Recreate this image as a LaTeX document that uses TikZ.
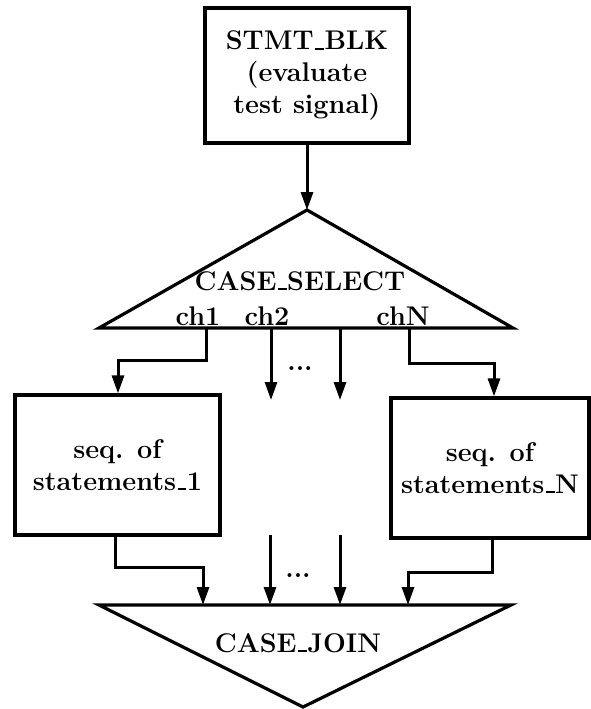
\documentclass[tikz,border=0pt]{standalone}
\usetikzlibrary{arrows.meta}
% classic TeX-style underscore: a short rule on the baseline
\newcommand{\lowbar}{\leavevmode\kern.06em\vbox{\hrule width.32em height .075em}\kern.02em}
\begin{document}
\begin{tikzpicture}[x=1pt,y=-1pt,
  line width=3.2pt,
  lbl/.style={font=\fontsize{27}{32}\selectfont\bfseries, inner sep=0pt, align=center},
  blockbox/.style={draw, line width=3.2pt, inner sep=0pt, align=center,
    font=\fontsize{27}{32}\selectfont\bfseries},
  flow/.style={-{Triangle[length=18pt,width=12pt]}, line width=3pt}]
\useasboundingbox (0,0) rectangle (591,709);

% evaluation block
\node[blockbox, minimum width=204pt, minimum height=135pt] (stmt) at (307,75.5)
  {STMT\lowbar BLK\\(evaluate\\test signal)};

% CASE_SELECT triangle
\coordinate (selTop) at (307,210);
\coordinate (selL) at (99,328);
\coordinate (selR) at (513,328);
\draw[line join=miter] (selTop) -- (selL) -- (selR) -- cycle;
\node[lbl] (selLbl) at (300,281) {CASE\lowbar SELECT};
\node[lbl] (ch1) at (198,316) {ch1};
\node[lbl] (ch2) at (267,316) {ch2};
\node[lbl] (chN) at (403,316) {chN};

% statement sequences
\node[blockbox, minimum width=205pt, minimum height=140pt] (seqA) at (117.5,465)
  {seq. of\\statements\lowbar 1};
\node[blockbox, minimum width=198pt, minimum height=140pt] (seqN) at (490,468)
  {seq. of\\statements\lowbar N};

% CASE_JOIN triangle
\coordinate (joinL) at (99,605);
\coordinate (joinR) at (511,605);
\coordinate (joinTip) at (303,707);
\draw[line join=miter] (joinL) -- (joinR) -- (joinTip) -- cycle;
\node[lbl] (joinLbl) at (298,643) {CASE\lowbar JOIN};

% branch points on the select base
\coordinate (o1) at (206,328);
\coordinate (o2) at (271,328);
\coordinate (o3) at (340,328);
\coordinate (oN) at (409,328);
\coordinate (e2) at (271,400);
\coordinate (e3) at (340,400);

% entry points on the join base
\coordinate (i1) at (203,605);
\coordinate (i2) at (270,605);
\coordinate (i3) at (340,605);
\coordinate (iN) at (408,605);
\coordinate (s2) at (270,535);
\coordinate (s3) at (340,535);

% connectors
\draw[flow] (stmt.south) -- (selTop);
\draw[flow] (o1) |- (162,360) -| (seqA.north -| 118,0);
\draw[flow] (o2) -- (e2);
\draw[flow] (o3) -- (e3);
\draw[flow] (oN) |- (450,363) -| (seqN.north -| 494,0);
\node[lbl] (dotsA) at (300,369) {...};

\draw[flow] (seqA.south -| 115,0) |- (160,567) -| (i1);
\draw[flow] (s2) -- (i2);
\draw[flow] (s3) -- (i3);
\draw[flow] (seqN.south -| 492,0) |- (450,572) -| (iN);
\node[lbl] (dotsB) at (298,576) {...};
\end{tikzpicture}
\end{document}
